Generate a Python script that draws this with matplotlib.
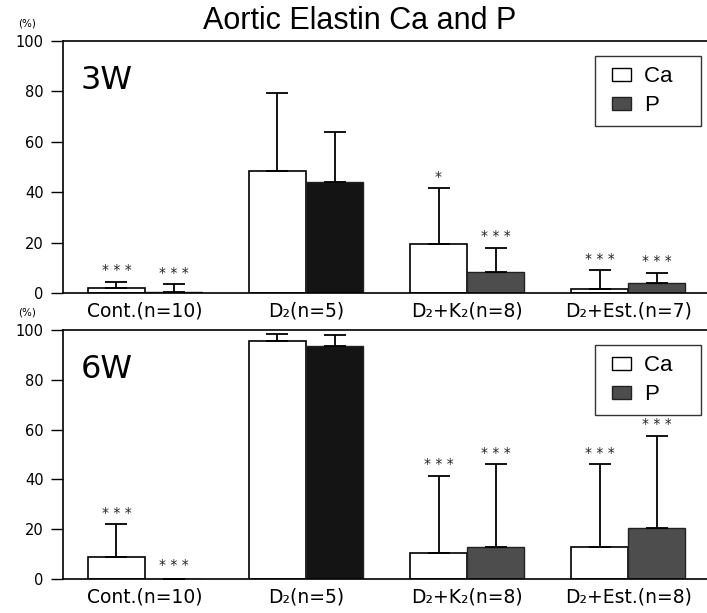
import numpy as np
import matplotlib
matplotlib.use('Agg')
import matplotlib.pyplot as plt
from matplotlib.patches import Patch, Rectangle
from matplotlib.legend_handler import HandlerPatch

plt.rcParams['font.family'] = ['DejaVu Sans']

# data (%)
groups_3w = ['Cont.(n=10)', 'D₂(n=5)', 'D₂+K₂(n=8)', 'D₂+Est.(n=7)']
groups_6w = ['Cont.(n=10)', 'D₂(n=5)', 'D₂+K₂(n=8)', 'D₂+Est.(n=8)']

ca_3w = [2, 48.5, 19.5, 1.5]
ca_sd_3w = [2.5, 31, 22, 7.5]
p_3w = [0.5, 44, 8.5, 4]
p_sd_3w = [3, 20, 9.5, 4]
ca_stars_3w = ['***', '', '*', '***']
p_stars_3w = ['***', '', '***', '***']

ca_6w = [9, 95.5, 10.5, 13]
ca_sd_6w = [13, 3, 31, 33]
p_6w = [0, 93.5, 13, 20.5]
p_sd_6w = [0, 4.5, 33, 37]
ca_stars_6w = ['***', '', '***', '***']
p_stars_6w = ['***', '', '***', '***']

P_GRAY = '#4d4d4d'


def small_square(legend, orig_handle, xdescent, ydescent, width, height, fontsize):
    # square sitting at the right end of the handle box
    s = height * 0.75
    return Rectangle((-xdescent + width - s * 1.5, -ydescent + (height - s) / 2), s * 1.5, s)


def stars(s):
    return ' '.join(s)


def draw_panel(ax, labels, ca, ca_sd, p, p_sd, ca_st, p_st, tag):
    x = np.arange(len(labels))
    w = 0.355
    p_cols = [P_GRAY, '#141414', P_GRAY, P_GRAY]
    ax.bar(x - w / 2, ca, w, color='white', edgecolor='black', linewidth=1.2)
    ax.bar(x + w / 2, p, w, color=p_cols, edgecolor='#222222', linewidth=1.0)
    ax.errorbar(x - w / 2, ca, yerr=[np.zeros(len(ca)), ca_sd], fmt='none',
                ecolor='black', elinewidth=1.3, capsize=8, capthick=1.3)
    ax.errorbar(x + w / 2, p, yerr=[np.zeros(len(p)), p_sd], fmt='none',
                ecolor='black', elinewidth=1.3, capsize=8, capthick=1.3)
    for i in range(len(labels)):
        top = max(ca[i] + ca_sd[i], 1)
        ax.text(x[i] - w / 2, top + 1.8, stars(ca_st[i]), ha='center', va='bottom',
                fontsize=10, color='#222222')
        top = max(p[i] + p_sd[i], 1)
        ax.text(x[i] + w / 2, top + 1.8, stars(p_st[i]), ha='center', va='bottom',
                fontsize=10, color='#222222')

    ax.set_xlim(-0.51, 3.49)
    ax.set_ylim(0, 100)
    ax.set_yticks([0, 20, 40, 60, 80, 100])
    ax.set_xticks(x)
    ax.set_xticklabels(labels, fontsize=13.5)
    ax.tick_params(axis='x', length=0, pad=6)
    ax.tick_params(axis='y', length=9, width=1, labelsize=10.5, pad=5)
    ax.spines['right'].set_visible(False)
    for s in ['left', 'top', 'bottom']:
        ax.spines[s].set_linewidth(1.2)
    ax.text(0.027, 0.905, tag, transform=ax.transAxes, fontsize=23, va='top', ha='left')
    ax.text(-0.07, 1.05, '(%)', transform=ax.transAxes, fontsize=7.5, ha='left', va='bottom')
    handles = [Patch(facecolor='white', edgecolor='black', label='Ca   '),
               Patch(facecolor=P_GRAY, edgecolor='#222222', label='P')]
    leg = ax.legend(handles=handles, loc='upper right', bbox_to_anchor=(0.99, 0.94),
                    prop={'family': 'Liberation Sans', 'size': 16},
                    frameon=True, fancybox=False, edgecolor='black',
                    handlelength=1.2, handleheight=0.8, handletextpad=0.55,
                    borderpad=0.45, labelspacing=0.35, borderaxespad=0,
                    handler_map={Patch: HandlerPatch(patch_func=small_square)})
    leg.get_frame().set_linewidth(1.0)


fig = plt.figure(figsize=(7.07, 6.13), dpi=100)
ax1 = fig.add_axes([0.089, 0.522, 0.911, 0.411])
ax2 = fig.add_axes([0.089, 0.0555, 0.911, 0.406])

draw_panel(ax1, groups_3w, ca_3w, ca_sd_3w, p_3w, p_sd_3w, ca_stars_3w, p_stars_3w, '3W')
draw_panel(ax2, groups_6w, ca_6w, ca_sd_6w, p_6w, p_sd_6w, ca_stars_6w, p_stars_6w, '6W')

fig.text(0.509, 0.965, 'Aortic Elastin Ca and P', ha='center', va='center',
         fontsize=22, family='Liberation Sans')

fig.savefig('out.png', dpi=100)
